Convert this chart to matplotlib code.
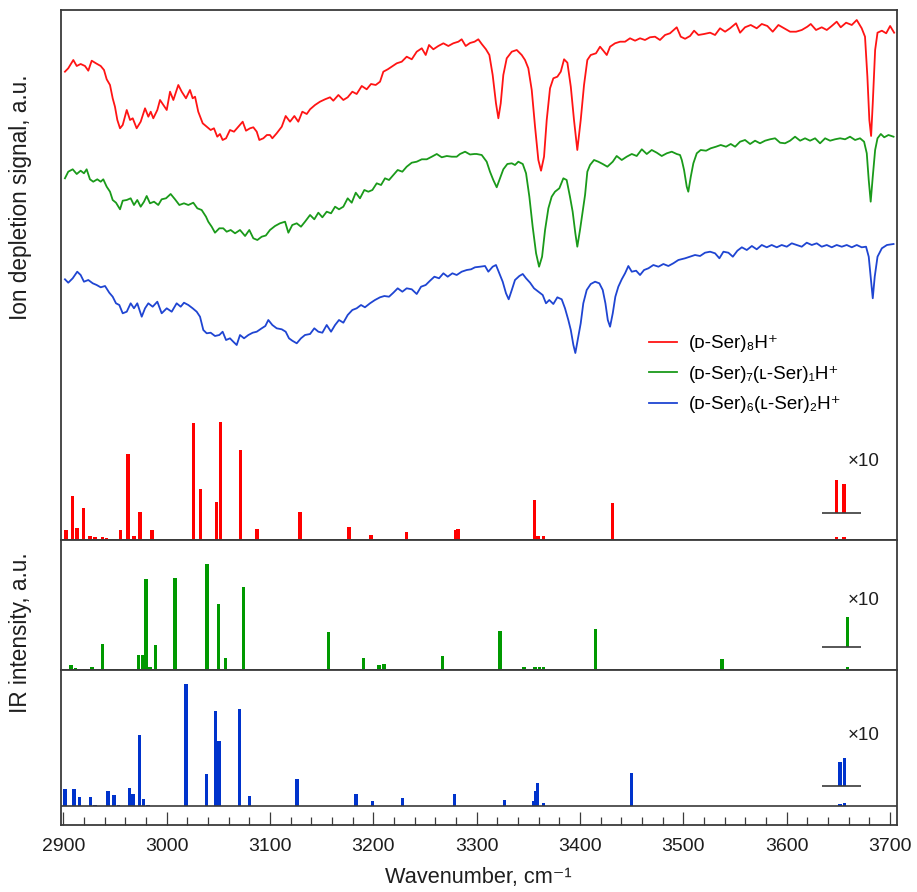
import numpy as np
import matplotlib
matplotlib.use('Agg')
import matplotlib.pyplot as plt
from matplotlib.ticker import MultipleLocator

plt.rcParams['font.family'] = ['Liberation Sans', 'DejaVu Sans']

# ---------------- experimental spectra (offset, arbitrary units) ----------------
red_wn = [2901.6, 2904.8, 2909.7, 2913.0, 2916.8, 2921.0, 2924.2, 2927.5, 2931.6, 2936.2,
          2939.4, 2942.0, 2945.2, 2947.8, 2950.0, 2952.3, 2954.9, 2957.5, 2961.4, 2964.6,
          2967.2, 2971.0, 2974.9, 2979.1, 2982.3, 2984.6, 2987.1, 2991.0, 2993.6, 2996.8,
          3000.1, 3003.3, 3006.5, 3011.3, 3014.6, 3018.7, 3022.6, 3025.2, 3027.5, 3030.6,
          3034.9, 3038.8, 3042.6, 3045.8, 3049.0, 3051.6, 3054.2, 3057.5, 3061.3, 3065.2,
          3069.4, 3073.6, 3076.8, 3080.7, 3083.9, 3087.2, 3089.7, 3093.6, 3097.0, 3100.0,
          3102.3, 3106.5, 3111.4, 3115.2, 3119.4, 3123.6, 3127.4, 3131.3, 3135.6, 3138.8,
          3143.6, 3148.4, 3153.3, 3158.1, 3161.3, 3166.2, 3171.0, 3175.2, 3179.7, 3183.9,
          3188.8, 3193.6, 3197.8, 3202.3, 3206.5, 3209.7, 3214.0, 3217.8, 3222.7, 3227.5,
          3232.3, 3237.2, 3242.0, 3246.9, 3250.7, 3253.9, 3258.1, 3262.9, 3267.8, 3272.6,
          3277.4, 3282.3, 3285.5, 3289.4, 3293.6, 3298.0, 3301.6, 3304.9, 3309.0, 3312.3,
          3315.5, 3318.7, 3321.0, 3323.3, 3325.8, 3329.1, 3334.0, 3338.8, 3343.6, 3346.8,
          3350.0, 3353.3, 3356.5, 3359.7, 3362.3, 3365.2, 3367.8, 3371.0, 3374.2, 3378.1,
          3381.4, 3384.6, 3387.8, 3391.1, 3394.2, 3397.4, 3400.7, 3403.9, 3407.1, 3410.4,
          3415.5, 3419.4, 3422.6, 3425.9, 3429.1, 3433.9, 3438.8, 3443.6, 3448.4, 3453.3,
          3458.1, 3462.9, 3467.7, 3472.6, 3477.4, 3482.3, 3487.1, 3493.6, 3497.5, 3501.7,
          3506.5, 3510.4, 3514.6, 3520.1, 3525.9, 3530.7, 3535.5, 3540.4, 3545.2, 3551.0,
          3554.9, 3559.7, 3565.2, 3571.0, 3575.9, 3581.3, 3586.5, 3592.0, 3597.5, 3603.3,
          3609.1, 3614.6, 3620.0, 3623.3, 3628.4, 3633.9, 3638.8, 3643.6, 3648.4, 3652.3,
          3657.5, 3663.0, 3667.8, 3672.6, 3675.8, 3678.1, 3680.0, 3681.7, 3683.3, 3685.6,
          3687.9, 3692.1, 3696.3, 3700.1, 3704.0]
red_sig = [468.3, 471.7, 480.0, 474.0, 476.0, 474.0, 469.3, 479.3, 476.7, 474.0,
           470.0, 460.7, 455.0, 441.7, 433.3, 420.0, 411.7, 415.0, 430.0, 420.0,
           421.7, 411.7, 418.3, 431.7, 423.3, 428.3, 421.7, 430.0, 440.0, 435.0,
           430.0, 448.3, 440.0, 455.0, 448.3, 441.7, 450.0, 441.7, 443.3, 428.3,
           416.7, 413.3, 410.0, 411.7, 403.3, 406.0, 400.0, 401.7, 410.0, 408.3,
           413.3, 418.3, 409.3, 411.7, 412.7, 408.3, 400.0, 401.7, 405.0, 405.0,
           401.7, 406.7, 413.3, 424.0, 418.3, 424.0, 418.3, 428.3, 426.0, 430.7,
           435.0, 438.3, 440.7, 442.7, 439.3, 445.0, 440.0, 442.7, 448.3, 446.0,
           454.0, 450.7, 456.0, 455.0, 458.3, 468.3, 470.7, 473.3, 476.7, 478.3,
           483.3, 480.7, 488.3, 491.7, 485.0, 495.0, 490.7, 494.0, 496.7, 494.0,
           496.7, 498.3, 500.7, 494.0, 497.0, 498.3, 500.7, 496.0, 490.7, 485.0,
           465.0, 436.7, 421.7, 436.7, 465.0, 481.7, 488.3, 490.0, 485.0, 480.0,
           471.7, 450.0, 413.3, 380.0, 369.3, 383.3, 420.0, 451.7, 461.7, 463.3,
           468.3, 480.7, 477.3, 453.3, 420.0, 390.0, 420.0, 455.0, 480.0, 485.0,
           486.7, 493.3, 489.3, 485.0, 493.3, 496.7, 498.3, 498.3, 501.7, 499.3,
           501.7, 500.0, 502.7, 503.3, 500.0, 505.0, 506.7, 512.7, 503.3, 501.2,
           504.0, 509.3, 505.0, 506.0, 507.3, 505.0, 511.7, 508.3, 511.7, 516.7,
           507.3, 512.7, 515.0, 511.7, 516.0, 514.0, 508.3, 515.0, 511.7, 508.3,
           508.3, 510.0, 513.3, 516.0, 510.0, 512.7, 510.0, 514.0, 518.3, 512.7,
           517.3, 515.0, 520.0, 511.7, 503.3, 463.3, 420.0, 404.0, 436.7, 490.0,
           507.3, 509.3, 506.7, 514.0, 507.3]

green_wn = [2901.6, 2904.8, 2909.1, 2913.0, 2916.8, 2920.0, 2922.6, 2925.8, 2929.0, 2932.9,
            2936.2, 2938.7, 2942.0, 2945.2, 2947.8, 2951.0, 2954.9, 2957.5, 2961.4, 2965.2,
            2968.4, 2971.6, 2974.9, 2978.1, 2980.7, 2983.9, 2987.8, 2991.9, 2995.2, 2999.4,
            3003.9, 3008.1, 3012.3, 3016.8, 3021.0, 3025.8, 3029.7, 3033.9, 3038.1, 3040.3,
            3043.6, 3046.8, 3051.0, 3054.8, 3058.1, 3062.0, 3066.2, 3071.0, 3075.9, 3080.0,
            3083.9, 3087.8, 3092.0, 3096.0, 3100.0, 3104.9, 3109.7, 3114.6, 3117.8, 3121.6,
            3125.9, 3130.0, 3133.9, 3138.8, 3142.9, 3146.8, 3150.7, 3154.9, 3159.1, 3163.0,
            3166.8, 3171.0, 3175.2, 3179.1, 3183.0, 3187.1, 3191.3, 3195.2, 3199.1, 3203.3,
            3207.5, 3211.3, 3215.2, 3219.4, 3223.6, 3228.1, 3232.3, 3237.2, 3242.0, 3246.9,
            3251.7, 3256.6, 3261.4, 3266.2, 3271.1, 3275.9, 3280.7, 3283.9, 3288.8, 3293.6,
            3297.7, 3300.0, 3304.9, 3309.7, 3312.9, 3316.1, 3319.4, 3322.6, 3325.8, 3329.7,
            3334.0, 3337.1, 3340.3, 3344.6, 3347.8, 3351.0, 3354.2, 3357.5, 3360.4, 3363.3,
            3366.2, 3369.4, 3372.6, 3375.8, 3380.0, 3383.9, 3387.1, 3390.3, 3392.9, 3395.5,
            3397.4, 3400.0, 3402.6, 3404.9, 3407.1, 3409.7, 3413.6, 3417.7, 3422.0, 3426.5,
            3431.7, 3435.5, 3440.4, 3445.2, 3450.1, 3454.9, 3459.8, 3464.6, 3469.4, 3474.3,
            3479.1, 3484.0, 3488.8, 3493.6, 3496.8, 3498.5, 3500.7, 3503.3, 3504.8, 3507.2,
            3509.7, 3513.0, 3516.8, 3522.0, 3526.5, 3531.6, 3536.2, 3541.3, 3545.9, 3550.1,
            3554.9, 3559.7, 3564.6, 3569.4, 3574.2, 3579.1, 3583.9, 3588.8, 3593.6, 3598.4,
            3603.3, 3608.1, 3613.0, 3617.8, 3622.6, 3627.5, 3632.3, 3637.2, 3642.0, 3646.8,
            3651.7, 3656.5, 3661.3, 3666.2, 3671.0, 3674.9, 3677.5, 3679.4, 3681.3, 3683.3,
            3685.6, 3687.9, 3691.1, 3694.4, 3698.5, 3703.4]
green_sig = [361.7, 368.3, 370.7, 366.0, 369.3, 366.7, 370.7, 360.7, 358.3, 360.7,
             358.3, 360.7, 353.3, 348.3, 340.0, 337.3, 330.7, 339.3, 340.0, 341.7,
             335.0, 340.0, 333.3, 338.3, 344.0, 336.7, 338.3, 335.0, 340.7, 341.7,
             346.0, 340.7, 335.0, 336.7, 335.0, 337.3, 331.7, 330.0, 323.3, 318.3,
             313.3, 307.3, 311.7, 311.7, 308.3, 310.0, 306.7, 310.0, 304.0, 310.0,
             301.7, 300.0, 303.3, 304.5, 310.0, 314.0, 316.7, 318.3, 307.3, 315.0,
             316.7, 313.3, 318.3, 325.0, 320.7, 327.3, 322.7, 328.3, 326.7, 333.3,
             330.7, 333.3, 341.7, 337.3, 347.3, 341.7, 350.0, 348.3, 350.0, 356.7,
             355.0, 361.7, 360.0, 365.0, 370.0, 368.3, 373.3, 377.3, 378.3, 380.7,
             380.7, 383.3, 386.0, 382.7, 384.0, 383.3, 383.3, 386.0, 388.3, 385.5,
             386.0, 386.0, 385.0, 378.3, 368.3, 360.0, 352.7, 361.7, 370.7, 376.0,
             376.7, 375.0, 378.3, 376.0, 366.7, 343.3, 313.3, 286.7, 273.3, 283.3,
             310.0, 331.7, 343.3, 348.3, 351.7, 361.7, 360.0, 343.3, 328.3, 306.7,
             293.3, 310.0, 328.3, 345.0, 368.3, 375.0, 380.0, 378.3, 376.0, 373.3,
             378.3, 384.0, 380.0, 383.3, 386.0, 384.0, 390.7, 386.0, 390.0, 387.3,
             384.0, 386.7, 388.3, 386.0, 385.0, 380.0, 370.0, 353.3, 348.3, 363.3,
             376.7, 386.7, 390.0, 389.3, 391.7, 393.3, 395.0, 393.3, 396.0, 393.3,
             398.3, 400.0, 396.0, 399.3, 396.7, 399.3, 400.7, 401.7, 397.3, 396.7,
             399.3, 403.3, 399.3, 401.7, 399.3, 401.7, 396.7, 401.7, 399.3, 400.7,
             401.7, 400.7, 403.3, 400.0, 401.7, 398.3, 386.7, 360.0, 338.3, 363.3,
             390.0, 401.7, 406.0, 402.7, 405.0, 403.3]

blue_wn = [2901.6, 2904.8, 2909.1, 2913.5, 2916.8, 2920.0, 2924.2, 2928.5, 2932.3, 2936.2,
           2940.4, 2944.5, 2947.8, 2951.0, 2954.2, 2957.5, 2961.4, 2965.2, 2968.4, 2971.6,
           2975.9, 2979.1, 2982.3, 2986.5, 2991.0, 2995.2, 3000.1, 3004.9, 3009.7, 3013.6,
           3016.8, 3021.0, 3025.2, 3029.1, 3032.3, 3035.5, 3038.8, 3042.6, 3046.8, 3051.0,
           3054.2, 3057.5, 3061.3, 3064.5, 3067.8, 3071.0, 3074.9, 3079.1, 3083.3, 3087.2,
           3092.0, 3095.5, 3098.4, 3102.3, 3106.5, 3111.4, 3115.2, 3118.4, 3121.6, 3125.9,
           3130.0, 3133.9, 3138.8, 3142.9, 3146.8, 3150.7, 3154.9, 3159.1, 3163.0, 3166.8,
           3171.0, 3175.2, 3179.7, 3183.9, 3188.1, 3191.9, 3196.8, 3201.6, 3206.5, 3210.7,
           3215.2, 3219.4, 3223.6, 3228.1, 3232.3, 3237.2, 3242.0, 3246.2, 3250.7, 3254.9,
           3259.1, 3263.6, 3267.8, 3272.0, 3276.5, 3280.7, 3285.5, 3290.4, 3294.6, 3298.4,
           3303.3, 3308.1, 3311.3, 3315.5, 3318.7, 3321.9, 3325.2, 3328.4, 3331.0, 3334.0,
           3337.1, 3341.3, 3344.6, 3347.8, 3351.7, 3355.5, 3359.7, 3363.9, 3367.1, 3370.3,
           3374.2, 3378.1, 3382.3, 3385.5, 3388.7, 3391.1, 3393.6, 3395.5, 3398.1, 3400.7,
           3403.2, 3406.5, 3410.4, 3414.6, 3418.7, 3422.0, 3424.6, 3426.9, 3429.1, 3431.7,
           3434.2, 3437.1, 3440.4, 3443.6, 3446.8, 3450.1, 3454.3, 3458.1, 3462.0, 3466.2,
           3471.0, 3475.9, 3480.7, 3485.5, 3490.3, 3495.2, 3501.7, 3506.5, 3511.3, 3516.2,
           3521.0, 3525.9, 3530.7, 3534.9, 3538.8, 3543.6, 3547.9, 3552.3, 3556.6, 3561.4,
           3566.3, 3571.0, 3575.9, 3580.7, 3585.5, 3590.4, 3595.2, 3600.1, 3604.9, 3609.7,
           3614.6, 3619.4, 3624.3, 3629.1, 3633.9, 3638.8, 3643.6, 3648.4, 3653.3, 3658.1,
           3663.0, 3667.8, 3672.6, 3676.8, 3679.4, 3681.3, 3683.3, 3685.2, 3687.9, 3692.1,
           3697.0, 3703.4]
blue_sig = [260.7, 257.3, 261.7, 268.3, 265.0, 258.3, 260.0, 256.7, 255.0, 252.7,
            254.0, 247.3, 243.3, 236.7, 235.0, 226.7, 228.3, 236.7, 231.7, 236.7,
            223.3, 231.7, 236.7, 233.3, 238.3, 226.7, 231.7, 228.3, 236.7, 233.3,
            237.3, 235.0, 231.7, 228.3, 223.3, 210.0, 206.7, 207.3, 204.0, 205.0,
            208.3, 200.0, 201.7, 198.3, 195.0, 205.0, 201.7, 205.0, 207.3, 208.3,
            211.7, 214.0, 220.0, 215.0, 211.7, 210.7, 208.3, 201.7, 199.3, 196.7,
            201.7, 205.0, 206.0, 211.7, 208.3, 207.3, 215.0, 208.3, 215.0, 220.0,
            217.3, 225.0, 230.0, 231.7, 235.0, 232.7, 236.7, 240.0, 242.7, 244.0,
            243.3, 247.3, 251.7, 248.3, 251.7, 250.7, 246.0, 253.3, 255.0, 259.3,
            263.3, 261.7, 266.7, 263.3, 266.7, 265.0, 268.3, 270.0, 270.7, 272.7,
            273.3, 274.0, 268.3, 273.3, 275.0, 266.7, 258.3, 246.7, 240.7, 250.0,
            260.0, 264.0, 266.0, 261.7, 257.3, 251.7, 248.3, 245.0, 236.7, 240.0,
            236.0, 242.7, 240.7, 231.7, 220.0, 210.0, 195.0, 187.0, 201.7, 216.7,
            236.7, 250.0, 256.0, 258.3, 256.7, 250.0, 236.7, 220.0, 213.3, 226.7,
            243.3, 253.3, 260.7, 266.7, 274.0, 268.3, 269.3, 265.0, 270.0, 271.7,
            275.0, 273.3, 276.0, 274.0, 276.7, 280.0, 281.7, 283.3, 285.0, 284.0,
            287.3, 288.3, 286.7, 281.7, 288.3, 287.3, 283.3, 289.3, 292.7, 290.0,
            294.0, 290.7, 295.0, 292.7, 295.0, 292.7, 295.0, 293.3, 296.7, 295.0,
            293.3, 297.3, 295.0, 296.7, 293.3, 295.0, 292.7, 295.0, 293.3, 295.0,
            292.7, 295.0, 292.7, 293.3, 283.3, 263.3, 241.7, 263.3, 283.3, 291.7,
            295.0, 296.0]

# ---------------- computed stick spectra (IR intensity, a.u.) ----------------
red_bar_wn = [2902.6, 2909.0, 2913.5, 2919.7, 2925.8, 2930.7, 2938.0, 2942.0, 2946.0, 2950.0,
              2955.5, 2962.6, 2968.4, 2974.2, 2979.0, 2985.8, 3025.8, 3032.6, 3048.4, 3052.3,
              3071.7, 3087.4, 3129.0, 3176.5, 3197.8, 3232.0, 3279.8, 3282.0, 3355.8, 3359.5,
              3364.5, 3431.3, 3648.4, 3655.5]
red_bar_int = [10.0, 44.0, 11.7, 32.0, 4.0, 3.0, 3.0, 2.5, 1.5, 1.5,
               10.0, 86.0, 4.0, 28.0, 0.7, 10.0, 116.7, 51.3, 38.0, 118.3,
               90.0, 10.7, 28.0, 12.7, 5.3, 8.0, 10.0, 11.0, 40.0, 4.0,
               4.0, 36.7, 3.3, 2.9]

green_bar_wn = [2907.5, 2911.6, 2921.0, 2927.8, 2933.0, 2938.1, 2947.0, 2951.0, 2973.0, 2976.5,
                2980.2, 2983.9, 2989.4, 3008.1, 3039.0, 3050.0, 3056.8, 3074.2, 3156.8, 3190.7,
                3205.5, 3210.4, 3266.8, 3322.6, 3345.8, 3356.5, 3361.0, 3364.5, 3415.2, 3537.2,
                3658.8]
green_bar_int = [5.3, 2.3, 1.0, 3.3, 1.0, 26.3, 1.0, 0.5, 14.7, 14.7,
                 90.7, 3.0, 24.7, 92.3, 106.0, 66.0, 12.0, 83.3, 38.3, 11.7,
                 4.7, 6.0, 14.0, 39.3, 2.7, 3.3, 3.0, 3.3, 40.7, 10.7,
                 3.0]

blue_bar_wn = [2901.6, 2910.4, 2915.5, 2926.1, 2930.6, 2935.0, 2943.5, 2949.0, 2953.5, 2963.9,
               2967.7, 2973.9, 2977.4, 2982.0, 3018.7, 3038.7, 3047.1, 3050.7, 3070.7, 3080.4,
               3126.4, 3183.3, 3199.1, 3228.1, 3278.4, 3326.8, 3355.5, 3357.5, 3358.9, 3364.9,
               3450.0, 3651.6, 3655.8]
blue_bar_int = [16.7, 16.7, 9.3, 9.0, 1.0, 0.5, 15.3, 11.3, 1.0, 18.0,
                11.7, 70.7, 6.7, 1.0, 122.0, 31.7, 95.3, 64.7, 96.7, 10.0,
                27.3, 12.0, 5.0, 8.0, 11.7, 5.7, 5.0, 15.0, 23.3, 3.3,
                32.7, 2.4, 2.8]

labels = ['(ᴅ-Ser)₈H⁺', '(ᴅ-Ser)₇(ʟ-Ser)₁H⁺', '(ᴅ-Ser)₆(ʟ-Ser)₂H⁺']
line_colors = ['#ff1414', '#1a9a1a', '#1f45d2']
bar_colors = ['#ff0000', '#009900', '#0033cc']
zoom_factor = 10
zoom_min_wn = 3600

# ---------------- figure ----------------
fig = plt.figure(figsize=(9.17, 8.92), dpi=100)
L, W = 0.0662, 0.9117
ax_top = fig.add_axes([L, 0.3946, W, 0.5942])
ax_g = fig.add_axes([L, 0.2489, W, 0.1457])
ax_b = fig.add_axes([L, 0.0751, W, 0.1738])

spine_c = '#3a3a3a'
text_c = '#1e1e1e'
xlim = (2897.5, 3706.5)
bar_w = 3.4

for ax in (ax_top, ax_g, ax_b):
    ax.set_xlim(*xlim)
    for s in ax.spines.values():
        s.set_color(spine_c)
        s.set_linewidth(1.3)
    ax.set_yticks([])

ax_top.set_ylim(0, 530)
ax_g.set_ylim(0, 130)
ax_b.set_ylim(-19, 136)

# spectra
for wn, sig, c, lab in zip((red_wn, green_wn, blue_wn), (red_sig, green_sig, blue_sig),
                           line_colors, labels):
    ax_top.plot(wn, sig, color=c, lw=1.3, label=lab)

# bars + x10 insets
panels = [
    (ax_top, red_bar_wn, red_bar_int, bar_colors[0], 26.7, 79.0),
    (ax_g, green_bar_wn, green_bar_int, bar_colors[1], 23.3, 69.3),
    (ax_b, blue_bar_wn, blue_bar_int, bar_colors[2], 20.3, 70.0),
]
for ax, bwn, bint, c, lev, ty in panels:
    bwn = np.asarray(bwn)
    bint = np.asarray(bint)
    ax.bar(bwn, bint, width=bar_w, color=c, linewidth=0)
    sel = bwn > zoom_min_wn
    ax.bar(bwn[sel], zoom_factor * bint[sel], bottom=lev, width=bar_w, color=c, linewidth=0)
    ax.hlines(lev, 3634, 3672, color=spine_c, lw=1.2)
    ax.text(3674, ty, '×10', ha='center', va='center', fontsize=13.5, color=text_c)

ax_b.axhline(0, color=spine_c, lw=1.2)

# ticks
for ax in (ax_top, ax_g):
    ax.tick_params(axis='x', which='both', bottom=False, labelbottom=False)
ax_b.xaxis.set_major_locator(MultipleLocator(100))
ax_b.xaxis.set_minor_locator(MultipleLocator(20))
ax_b.tick_params(axis='x', which='major', direction='in', length=9.5, width=0.9,
                 color=spine_c, labelsize=14, pad=9, labelcolor=text_c)
ax_b.tick_params(axis='x', which='minor', direction='in', length=5.8, width=0.9, color=spine_c)
ax_b.set_xlabel('Wavenumber, cm⁻¹', fontsize=15.7, color=text_c, labelpad=9)

# legend
leg = ax_top.legend(loc='upper left', bbox_to_anchor=(649 / 917, 1 - 335 / 892),
                    bbox_transform=fig.transFigure, frameon=False, fontsize=13.5,
                    handlelength=1.5, handletextpad=0.6, labelspacing=0.72,
                    borderpad=0, borderaxespad=0)

fig.text(21 / 917, 1 - 197 / 892, 'Ion depletion signal, a.u.', rotation=90,
         ha='center', va='center', fontsize=16.3, color=text_c)
fig.text(21 / 917, 1 - 633 / 892, 'IR intensity, a.u.', rotation=90,
         ha='center', va='center', fontsize=16.3, color=text_c)

fig.savefig('out.png', dpi=100)
